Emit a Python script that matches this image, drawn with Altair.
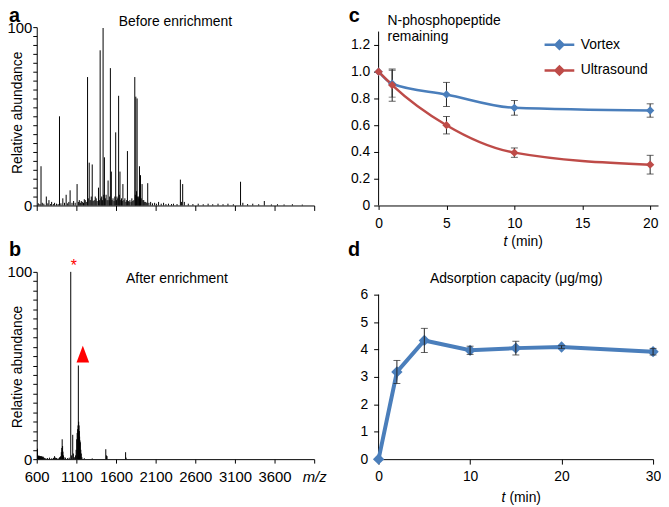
import altair as alt
import pandas as pd

FONT = "Liberation Sans"
BLUE = "#4a7ebb"
RED = "#be4b48"
BLACK = "#000000"

# ---------------- data ----------------
# a: spectrum before enrichment (m/z, relative abundance)
mz_before = [620, 640, 654, 670, 690, 721, 740, 754, 775, 788, 810, 825, 850, 870, 887, 905,
             929, 950, 971, 990, 1005, 1021, 1045, 1065, 1085, 1109, 1125, 1137, 1150, 1162,
             1175, 1190, 1200, 1212, 1225, 1241, 1250, 1262, 1275, 1288, 1300, 1312, 1325,
             1338, 1350, 1362, 1379, 1390, 1400, 1410, 1419, 1428, 1437, 1446, 1454, 1465,
             1475, 1488, 1500, 1512, 1520, 1529, 1541, 1550, 1562, 1575, 1585, 1596, 1605,
             1612, 1622, 1633, 1642, 1650, 1660, 1669, 1678, 1687, 1700, 1712, 1725, 1735,
             1744, 1755, 1765, 1775, 1790, 1800, 1812, 1825, 1837, 1844, 1850, 1858, 1866,
             1874, 1881, 1889, 1896, 1902, 1909, 1918, 1929, 1940, 1950, 1962, 1975, 1988,
             2000, 2015, 2037, 2060, 2087, 2110, 2137, 2170, 2200, 2230, 2262, 2300, 2325,
             2370, 2412, 2425, 2441, 2462, 2512, 2570, 2637, 2700, 2762, 2820, 2887, 2950,
             3012, 3080, 3171, 3200, 3260, 3325, 3400, 3471, 3560, 3637, 3720, 3825, 3950]
ab_before = [1.2, 0.8, 22, 1.5, 1.0, 5, 1.2, 3, 0.8, 2, 0.8, 1.5, 1.0, 0.8, 50, 1.2,
             4, 1.5, 6, 1.2, 2, 8.5, 1.5, 2.5, 1.5, 12, 2, 3, 1.5, 2.5,
             2, 1.5, 3.5, 3, 2, 72, 4, 24, 3, 5, 23, 2.5, 3,
             5, 4, 2.5, 10, 3, 87, 4, 5, 3, 99.5, 6, 27, 4,
             6, 3, 14, 3, 5, 77, 19, 3, 4, 2.5, 5, 41, 3,
             5, 4, 61.5, 6, 19, 3, 4, 2.5, 12, 3, 4, 2, 3,
             30.5, 2.5, 2, 3, 2, 4, 2.5, 3, 72, 6, 61, 8, 60,
             5, 5, 4, 22, 6, 17, 4, 12, 3, 3, 2, 2, 1.5,
             12.5, 1.5, 2, 1.2, 1.5, 1.0, 2, 1.0, 1.5, 0.8, 1.0, 0.8, 1.0,
             0.8, 14.5, 2, 12, 2, 1.0, 0.8, 1.0, 0.7, 1.0, 0.7, 1.0, 0.7,
             1.0, 0.7, 13.3, 1.5, 0.8, 1.0, 0.7, 2.5, 0.6, 0.7, 0.6, 0.7, 0.5]

# b: spectrum after enrichment
mz_after = [609, 615, 622, 628, 634, 640, 646, 652, 658, 664, 670, 676, 682, 690, 700, 715,
            737, 762, 790, 812, 825, 838, 850, 870, 887, 900, 910, 916, 921, 926, 931, 937,
            945, 962, 990, 1010, 1029, 1040, 1054, 1062, 1075, 1090, 1097, 1104, 1110, 1116,
            1121, 1125, 1129, 1134, 1138, 1141, 1145, 1150, 1156, 1162, 1170, 1200, 1300,
            1471, 1479, 1487, 1721, 1727]
ab_after = [5.6, 2.0, 1.8, 1.6, 1.8, 1.5, 1.6, 1.4, 1.6, 1.2, 1.4, 1.0, 1.3, 0.8, 0.6, 0.5,
            0.6, 0.8, 0.5, 0.7, 1.6, 0.8, 0.6, 0.5, 1.0, 1.5, 3.7, 6, 10.6, 7, 4, 2,
            1, 0.8, 0.6, 0.8, 100, 2, 13, 3, 1, 2, 5, 10.6, 14, 16,
            18, 50, 20, 18, 15, 12, 10, 9, 5, 3, 1, 0.5, 0.4,
            5.3, 2, 1.6, 3.7, 0.8]
star_peak_mz, star_peak_ab = [1029], [100]
tri_peak_mz, tri_peak_ab = [1125], [50]

# c: N-phosphopeptide remaining
t_c = [0, 1, 5, 10, 20]
vortex = [1.0, 0.91, 0.83, 0.73, 0.71]
vortex_err = [0, 0.10, 0.09, 0.055, 0.05]
ultrasound = [1.0, 0.90, 0.60, 0.395, 0.305]
ultrasound_err = [0, 0.12, 0.065, 0.035, 0.07]
series_c = ["Vortex", "Ultrasound"]

# d: adsorption capacity
t_d = [0, 2, 5, 10, 15, 20, 30]
capacity = [0, 3.18, 4.33, 3.97, 4.05, 4.09, 3.92]
capacity_err = [0, 0.42, 0.44, 0.15, 0.25, 0.05, 0.12]

# ---------------- layout constants ----------------
W_L, H_A, H_B = 280, 180, 189
W_C, H_C = 282, 180
W_D, H_D = 277, 189
C_TOP, D_TOP = 1.3, 6
C_DOM = C_TOP * H_C / 175.5
D_DOM = D_TOP * H_D / 166


def ax(**kw):
    base = dict(domainColor=BLACK, tickColor=BLACK, labelColor=BLACK, labelFont=FONT,
                titleFont=FONT, titleColor=BLACK, grid=False, domainWidth=1, tickWidth=1,
                titleFontWeight="normal", labelFlush=False, labelOverlap=False)
    base.update(kw)
    return alt.Axis(**base)


def txt(text, x, y, size=14, weight="normal", style="normal", align="left", color=BLACK):
    return alt.Chart(pd.DataFrame({"s": [text]})).mark_text(
        align=align, baseline="alphabetic", fontSize=size, fontWeight=weight,
        fontStyle=style, font=FONT, color=color
    ).encode(x=alt.value(x), y=alt.value(y), text="s:N")


# ---------------- panels a & b ----------------
xs_ms = alt.Scale(domain=[600, 4100], nice=False, zero=False)
ys_ms = alt.Scale(domain=[0, 100], nice=False)
ms_ticks = list(range(600, 4101, 500))
ab_ticks = list(range(0, 101, 5))


def y_ms_axis(title_y):
    return ax(values=ab_ticks,
              labelExpr="datum.value == 0 || datum.value == 100 ? datum.label : ''",
              tickSize=4, labelPadding=1, labelFontSize=15,
              title="Relative abundance", titleFontSize=14, titleX=-19, titleY=title_y,
              titleBaseline="middle", titleAngle=270)


xa_axis = ax(values=ms_ticks, labels=False, tickSize=5, title=None)
xb_axis = ax(values=ms_ticks, tickSize=4, labelPadding=7, labelFontSize=15, title=None,
             format="d",
             labelExpr="datum.value == 4100 ? 'm/z' : datum.label",
             labelFontStyle={"condition": {"test": "datum.value == 4100", "value": "italic"},
                             "value": "normal"})
ya_axis = y_ms_axis(86)
yb_axis = y_ms_axis(95.5)

spec_a = alt.Chart(pd.DataFrame({"mz": mz_before, "ab": ab_before})).mark_rule(
    color=BLACK, strokeWidth=1).encode(
    x=alt.X("mz:Q", scale=xs_ms, axis=xa_axis),
    y=alt.Y("ab:Q", scale=ys_ms, axis=ya_axis),
    y2=alt.datum(0),
)
panel_a = alt.layer(
    spec_a,
    txt("a", -28, -5.5, size=20, weight="bold"),
    txt("Before enrichment", 140, -1.5, align="center"),
).properties(width=W_L, height=H_A)

spec_b = alt.Chart(pd.DataFrame({"mz": mz_after, "ab": ab_after})).mark_rule(
    color=BLACK, strokeWidth=1).encode(
    x=alt.X("mz:Q", scale=xs_ms, axis=xb_axis),
    y=alt.Y("ab:Q", scale=ys_ms, axis=yb_axis),
    y2=alt.datum(0),
)
star_b = alt.Chart(pd.DataFrame({"mz": star_peak_mz, "ab": star_peak_ab})).mark_text(
    text="*", color="red", fontSize=16, font=FONT, baseline="alphabetic", dx=3, dy=-1
).encode(x=alt.X("mz:Q", scale=xs_ms, axis=xb_axis),
         y=alt.Y("ab:Q", scale=ys_ms, axis=yb_axis))
tri_b = alt.Chart(pd.DataFrame({"mz": tri_peak_mz, "ab": tri_peak_ab})).mark_point(
    shape="M0,-1L0.75,1L-0.75,1Z", filled=True, color="red", opacity=1, size=289,
    xOffset=4.5, yOffset=-11.5
).encode(x=alt.X("mz:Q", scale=xs_ms, axis=xb_axis),
         y=alt.Y("ab:Q", scale=ys_ms, axis=yb_axis))
panel_b = alt.layer(
    spec_b, star_b, tri_b,
    txt("b", -28, -16, size=20, weight="bold"),
    txt("After enrichment", 141.5, 11.3, align="center"),
).properties(width=W_L, height=H_B)

# ---------------- panel c ----------------
df_c = pd.DataFrame({
    "t": t_c * 2,
    "v": vortex + ultrasound,
    "e": vortex_err + ultrasound_err,
    "series": [series_c[0]] * len(t_c) + [series_c[1]] * len(t_c),
})
df_c["lo"] = df_c["v"] - df_c["e"]
df_c["hi"] = df_c["v"] + df_c["e"]
err_c = df_c[df_c["e"] > 0]

xc = alt.Scale(domain=[0, 20.58], nice=False)
yc = alt.Scale(domain=[0, C_DOM], nice=False)
xc_axis = ax(values=[0, 5, 10, 15, 20], tickSize=4, labelPadding=7, labelFontSize=14, title=None)
yc_axis = ax(values=[0, 0.2, 0.4, 0.6, 0.8, 1.0, 1.2], domain=False, tickSize=5, labelPadding=4,
             labelFontSize=14, title=None,
             labelExpr="datum.value == 0 ? '0' : format(datum.value, '.1f')")

legend_path = ("M-1,0L1,0M-0.27,0L0,-0.27L0.27,0L0,0.27Z"
               "M-0.18,0L0,-0.18L0.18,0L0,0.18Z M-0.09,0L0,-0.09L0.09,0L0,0.09Z")
color_c = alt.Color("series:N", scale=alt.Scale(domain=series_c, range=[BLUE, RED]),
                    legend=alt.Legend(orient="none", legendX=511, legendY=1.3, title=None,
                                      symbolType=legend_path, symbolSize=900,
                                      symbolStrokeWidth=2.5, labelFont=FONT, labelFontSize=14,
                                      labelColor=BLACK, labelOffset=5, rowPadding=-2.6,
                                      padding=0))

yaxis_line_c = alt.Chart(pd.DataFrame({"x": [0], "y0": [0], "y1": [C_TOP]})).mark_rule(
    color=BLACK, strokeWidth=1).encode(
    x=alt.X("x:Q", scale=xc, axis=xc_axis), y=alt.Y("y0:Q", scale=yc, axis=yc_axis), y2="y1:Q")
err_rule_c = alt.Chart(err_c).mark_rule(color="#222222", strokeWidth=1).encode(
    x=alt.X("t:Q", scale=xc, axis=xc_axis), y=alt.Y("lo:Q", scale=yc, axis=yc_axis), y2="hi:Q")
cap_lo_c = alt.Chart(err_c).mark_tick(orient="horizontal", color="#222222", size=7,
                                      thickness=1).encode(
    x=alt.X("t:Q", scale=xc, axis=xc_axis), y=alt.Y("lo:Q", scale=yc, axis=yc_axis))
cap_hi_c = alt.Chart(err_c).mark_tick(orient="horizontal", color="#222222", size=7,
                                      thickness=1).encode(
    x=alt.X("t:Q", scale=xc, axis=xc_axis), y=alt.Y("hi:Q", scale=yc, axis=yc_axis))
line_c = alt.Chart(df_c).mark_line(strokeWidth=2.5, interpolate="monotone").encode(
    x=alt.X("t:Q", scale=xc, axis=xc_axis), y=alt.Y("v:Q", scale=yc, axis=yc_axis),
    color=color_c, detail="series:N")
pts_c = alt.Chart(df_c).mark_point(shape="diamond", filled=True, size=70, opacity=1).encode(
    x=alt.X("t:Q", scale=xc, axis=xc_axis), y=alt.Y("v:Q", scale=yc, axis=yc_axis),
    color=color_c)

panel_c = alt.layer(
    yaxis_line_c, line_c, err_rule_c, cap_lo_c, cap_hi_c, pts_c,
    txt("c", -30, -5.5, size=20, weight="bold"),
    txt("N-phosphopeptide", 9, -2.3),
    txt("remaining", 9, 14),
    txt("t", 126, 221, style="italic"),
    txt("(min)", 134, 221),
).properties(width=W_C, height=H_C)

# ---------------- panel d ----------------
df_d = pd.DataFrame({"t": t_d, "v": capacity, "e": capacity_err})
df_d["lo"] = df_d["v"] - df_d["e"]
df_d["hi"] = df_d["v"] + df_d["e"]
err_d = df_d[df_d["e"] > 0]

xd = alt.Scale(domain=[0, 30], nice=False)
yd = alt.Scale(domain=[0, D_DOM], nice=False)
xd_axis = ax(values=[0, 10, 20, 30], tickSize=5, labelPadding=6, labelFontSize=14, title=None)
yd_axis = ax(values=[0, 1, 2, 3, 4, 5, 6], domain=False, tickSize=5, labelPadding=6,
             labelFontSize=14, title=None)

yaxis_line_d = alt.Chart(pd.DataFrame({"x": [0], "y0": [0], "y1": [D_TOP]})).mark_rule(
    color=BLACK, strokeWidth=1).encode(
    x=alt.X("x:Q", scale=xd, axis=xd_axis), y=alt.Y("y0:Q", scale=yd, axis=yd_axis), y2="y1:Q")
line_d = alt.Chart(df_d).mark_line(strokeWidth=4, color=BLUE).encode(
    x=alt.X("t:Q", scale=xd, axis=xd_axis), y=alt.Y("v:Q", scale=yd, axis=yd_axis))
pts_d = alt.Chart(df_d).mark_point(shape="diamond", filled=True, size=130, opacity=1,
                                   color=BLUE).encode(
    x=alt.X("t:Q", scale=xd, axis=xd_axis), y=alt.Y("v:Q", scale=yd, axis=yd_axis))
err_rule_d = alt.Chart(err_d).mark_rule(color="#222222", strokeWidth=1).encode(
    x=alt.X("t:Q", scale=xd, axis=xd_axis), y=alt.Y("lo:Q", scale=yd, axis=yd_axis), y2="hi:Q")
cap_lo_d = alt.Chart(err_d).mark_tick(orient="horizontal", color="#222222", size=7,
                                      thickness=1).encode(
    x=alt.X("t:Q", scale=xd, axis=xd_axis), y=alt.Y("lo:Q", scale=yd, axis=yd_axis))
cap_hi_d = alt.Chart(err_d).mark_tick(orient="horizontal", color="#222222", size=7,
                                      thickness=1).encode(
    x=alt.X("t:Q", scale=xd, axis=xd_axis), y=alt.Y("hi:Q", scale=yd, axis=yd_axis))

panel_d = alt.layer(
    yaxis_line_d, line_d, pts_d, err_rule_d, cap_lo_d, cap_hi_d,
    txt("d", -31, -16, size=20, weight="bold"),
    txt("Adsorption capacity (\u03bcg/mg)", 139, 11.7, align="center"),
    txt("t", 124, 232, style="italic"),
    txt("(min)", 132, 232),
).properties(width=W_D, height=H_D)

chart = alt.concat(
    panel_a, panel_c, panel_b, panel_d, columns=2,
    spacing={"row": 67, "column": 65}, bounds="flush", align="each",
).properties(
    padding={"left": -2, "top": -5, "right": 0, "bottom": 0}
).configure(font=FONT).configure_view(stroke=None)

chart.save("out.html", embed_options={"renderer": "svg", "actions": False})
